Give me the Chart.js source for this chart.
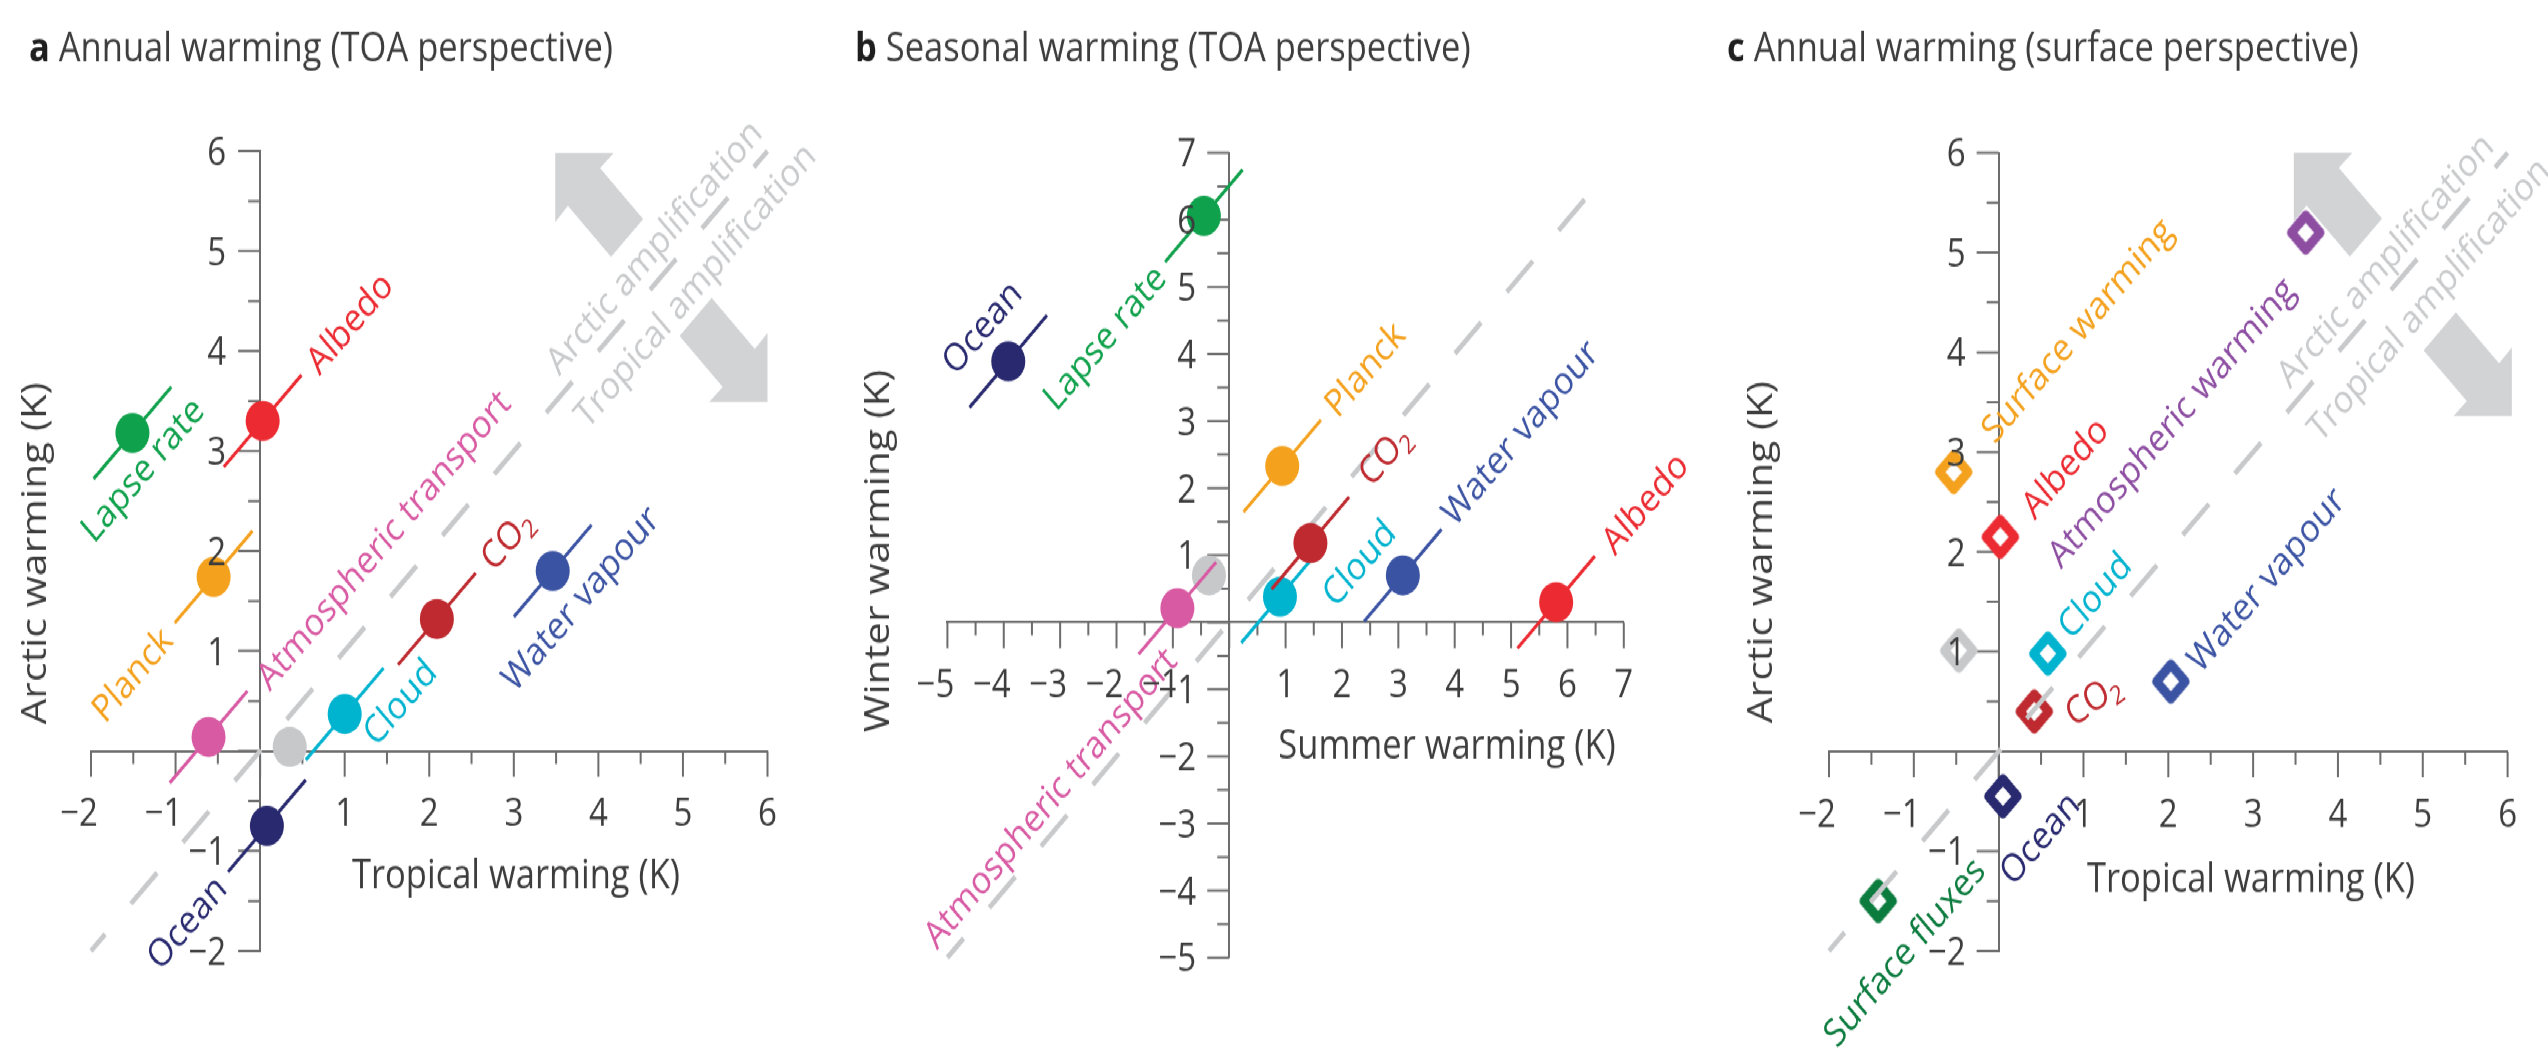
<!DOCTYPE html>
<html>
<head>
<meta charset="utf-8">
<script src="https://cdn.jsdelivr.net/npm/chart.js@4.4.0/dist/chart.umd.min.js"></script>
<style>
html, body { margin: 0; padding: 0; background: #fff; overflow: hidden; }
/* the original figure is stretched vertically, so everything is drawn in a flat box and scaled */
#wrap { position: absolute; left: 0; top: 0; width: 2548px; height: 890px; transform: scaleY(1.1798); transform-origin: 0 0; }
#wrap canvas { position: absolute; top: 0; }
</style>
</head>
<body>
<div id="wrap">
  <canvas id="panelA" width="850" height="890" style="left:0px"></canvas>
  <canvas id="panelB" width="850" height="890" style="left:850px"></canvas>
  <canvas id="panelC" width="848" height="890" style="left:1700px"></canvas>
</div>
<script>
// ---- values (K) ----
// a: annual warming, TOA perspective
const termsA = ['Total', 'Lapse rate', 'Albedo', 'Planck', 'Atmospheric transport', 'Cloud', 'Ocean', 'CO₂', 'Water vapour'];
const tropicalA = [0.35, -1.51, 0.03, -0.55, -0.61, 1.00, 0.08, 2.09, 3.46];
const arcticA = [0.04, 3.18, 3.30, 1.74, 0.14, 0.37, -0.75, 1.32, 1.80];

// b: seasonal warming, TOA perspective
const termsB = ['Total', 'Atmospheric transport', 'Cloud', 'CO₂', 'Planck', 'Water vapour', 'Albedo', 'Lapse rate', 'Ocean'];
const summerB = [-0.36, -0.92, 0.90, 1.44, 0.94, 3.08, 5.80, -0.45, -3.92];
const winterB = [0.70, 0.21, 0.38, 1.18, 2.33, 0.70, 0.30, 6.06, 3.89];

// c: annual warming, surface perspective
const termsC = ['Total', 'Surface warming', 'Albedo', 'Atmospheric warming', 'Cloud', 'CO₂', 'Water vapour', 'Ocean', 'Surface fluxes'];
const tropicalC = [-0.47, -0.53, 0.02, 3.62, 0.58, 0.42, 2.03, 0.05, -1.42];
const arcticC = [1.01, 2.80, 2.15, 5.20, 0.98, 0.40, 0.70, -0.45, -1.50];

// axis ranges (ticks every 1, minor every 0.5) and the 1:1 line
const rangeA = [-2, 6];
const rangeB = [-5, 7];
const rangeC = [-2, 6];
const oneToOneA = [-2, 6];
const oneToOneB = [-5, 6.6];
const oneToOneC = [-2, 6];

// ---- styles ----
const FONT = "'Open Sans', sans-serif";
const LABEL_SIZE = 32.5;
const TEXT = '#3d3d3d';
const AXIS = '#6d6d6d';
const DASH = '#c8c9cb';
const ARROW = '#d2d3d5';
const AMP = '#c9cacc';
const termColor = {
    'Total': '#c7c8ca',
    'Lapse rate': '#10a14c',
    'Albedo': '#ec2a31',
    'Planck': '#f4a11e',
    'Atmospheric transport': '#d85aa3',
    'Cloud': '#00b3cf',
    'Ocean': '#28296f',
    'CO₂': '#be2a2f',
    'Water vapour': '#3b53a3',
    'Surface warming': '#f4a11e',
    'Atmospheric warming': '#8d4ea2',
    'Surface fluxes': '#0c7b3e'
};

// label placement: [align, px along the 1:1 direction, px across it (+ = lower right), rotation override]
const placeA = {
    'Lapse rate': ['center', -15, 28],
    'Albedo': ['left', 67, 2],
    'Planck': ['right', -67, 0],
    'Atmospheric transport': ['left', 70, 5],
    'Cloud': ['center', 46, 31],
    'Ocean': ['right', -66, 0],
    'CO₂': ['left', 68, 1],
    'Water vapour': ['center', 3, 35]
};
const placeB = {
    'Ocean': ['center', 2, -40],
    'Lapse rate': ['right', -64, 1],
    'Planck': ['left', 67, 0],
    'CO₂': ['left', 76, -1],
    'Cloud': ['center', 76, 35],
    'Water vapour': ['left', 65, -3],
    'Albedo': ['left', 69, 3],
    'Atmospheric transport': ['right', -32, 22]
};
const placeC = {
    'Surface warming': ['left', 45, 1],
    'Albedo': ['left', 34, 3],
    'Atmospheric warming': ['right', -42, 18],
    'Cloud': ['left', 24, -3],
    'CO₂': ['center', 49, 33, -32],
    'Water vapour': ['left', 25, 5],
    'Ocean': ['center', 1, 50],
    'Surface fluxes': ['center', -12, 48]
};

// grey arrow outline, in axis units from the tip
const arrowShape = [[0, 0], [0.69, 0], [0.53, -0.15], [1.04, -0.66], [0.66, -1.04], [0.15, -0.53], [0, -0.69]];

function tickText(v) {
    return v < 0 ? '\u2212' + (-v) : String(v);
}

// text rotated about its anchor, caps centred on the anchor line; "₂" drawn as a subscript
function drawRotText(ctx, text, x, y, angle, align, color, size) {
    ctx.save();
    ctx.translate(x, y);
    ctx.rotate(angle);
    ctx.fillStyle = color;
    const main = size + 'px ' + FONT;
    const sub = Math.round(size * 0.68) + 'px ' + FONT;
    const pieces = [];
    let w = 0;
    text.split('₂').forEach((part, i, all) => {
        if (part) {
            ctx.font = main;
            const pw = ctx.measureText(part).width;
            pieces.push([part, main, 0, pw]);
            w += pw;
        }
        if (i < all.length - 1) {
            ctx.font = sub;
            const pw = ctx.measureText('2').width;
            pieces.push(['2', sub, size * 0.2, pw]);
            w += pw;
        }
    });
    let sx = align === 'left' ? 0 : (align === 'right' ? -w : -w / 2);
    ctx.textAlign = 'left';
    ctx.textBaseline = 'alphabetic';
    pieces.forEach(([t, f, dy, pw]) => {
        ctx.font = f;
        ctx.fillText(t, sx, size * 0.357 + dy);
        sx += pw;
    });
    ctx.restore();
}

function diagDir(xs, ys) {
    const dx = xs.getPixelForValue(1) - xs.getPixelForValue(0);
    const dy = ys.getPixelForValue(1) - ys.getPixelForValue(0);
    const L = Math.hypot(dx, dy);
    return { ux: dx / L, uy: dy / L, nx: -dy / L, ny: dx / L, ang: Math.atan2(dy, dx) };
}

function diamondImage(color) {
    const c = document.createElement('canvas');
    c.width = 46;
    c.height = 46;
    const g = c.getContext('2d');
    const h = 14.4;
    g.beginPath();
    g.moveTo(23, 23 - h);
    g.lineTo(23 + h, 23);
    g.lineTo(23, 23 + h);
    g.lineTo(23 - h, 23);
    g.closePath();
    g.fillStyle = '#fff';
    g.fill();
    g.lineWidth = 8.6;
    g.lineJoin = 'round';
    g.strokeStyle = color;
    g.stroke();
    return c;
}

function makeDecor(p) {
    return {
        id: 'decor' + p.key,
        beforeDatasetsDraw(chart) {
            const ctx = chart.ctx, xs = chart.scales.x, ys = chart.scales.y;
            const d = diagDir(xs, ys);
            ctx.save();
            if (p.arrows) {
                ctx.fillStyle = ARROW;
                p.arrows.forEach(([tx, ty, s]) => {
                    ctx.beginPath();
                    arrowShape.forEach(([ax, ay], k) => {
                        const px = xs.getPixelForValue(tx + s * ax);
                        const py = ys.getPixelForValue(ty + s * ay);
                        if (k) ctx.lineTo(px, py); else ctx.moveTo(px, py);
                    });
                    ctx.closePath();
                    ctx.fill();
                });
                p.ampText.forEach(([txt, t, off]) => {
                    const bx = xs.getPixelForValue(t) + off * d.nx;
                    const by = ys.getPixelForValue(t) + off * d.ny;
                    drawRotText(ctx, txt, bx, by, d.ang, 'center', AMP, LABEL_SIZE);
                });
            }
            // tick marks, long at whole kelvins
            const x0 = xs.getPixelForValue(0), y0 = ys.getPixelForValue(0);
            ctx.strokeStyle = AXIS;
            ctx.lineWidth = 2;
            ctx.beginPath();
            for (let i = xs.min * 2; i <= xs.max * 2; i++) {
                const px = xs.getPixelForValue(i / 2);
                ctx.moveTo(px, y0);
                ctx.lineTo(px, y0 + (i % 2 === 0 ? 22 : 11));
            }
            for (let i = ys.min * 2; i <= ys.max * 2; i++) {
                const py = ys.getPixelForValue(i / 2);
                ctx.moveTo(x0, py);
                ctx.lineTo(x0 - (i % 2 === 0 ? 22 : 12), py);
            }
            ctx.stroke();
            ctx.restore();
        },
        beforeDatasetDraw(chart, args) {
            if (!p.segments) return;
            const t = p.terms[args.index];
            if (t === undefined || t === 'Total') return;
            const el = args.meta.data[0];
            const d = diagDir(chart.scales.x, chart.scales.y);
            const ctx = chart.ctx;
            ctx.save();
            ctx.strokeStyle = termColor[t];
            ctx.lineWidth = 3;
            ctx.beginPath();
            ctx.moveTo(el.x - 55 * d.ux, el.y - 55 * d.uy);
            ctx.lineTo(el.x + 55 * d.ux, el.y + 55 * d.uy);
            ctx.stroke();
            ctx.restore();
        },
        afterDatasetsDraw(chart) {
            const ctx = chart.ctx, xs = chart.scales.x, ys = chart.scales.y;
            const d = diagDir(xs, ys);
            // term names along each point
            p.terms.forEach((t, i) => {
                const pl = p.place[t];
                if (!pl) return;
                const el = chart.getDatasetMeta(i).data[0];
                const ax = el.x + pl[1] * d.ux + pl[2] * d.nx;
                const ay = el.y + pl[1] * d.uy + pl[2] * d.ny;
                const ang = pl[3] !== undefined ? pl[3] * Math.PI / 180 : d.ang;
                drawRotText(ctx, t, ax, ay, ang, pl[0], termColor[t], LABEL_SIZE);
            });
            // tick labels
            const x0 = xs.getPixelForValue(0), y0 = ys.getPixelForValue(0);
            for (let v = xs.min; v <= xs.max; v++) {
                if (v === 0) continue;
                drawRotText(ctx, tickText(v), xs.getPixelForValue(v) - (v < 0 ? 12 : 0), y0 + 52, 0, 'center', TEXT, 33);
            }
            for (let v = ys.min; v <= ys.max; v++) {
                if (v === 0) continue;
                drawRotText(ctx, tickText(v), x0 - p.yLabelGap, ys.getPixelForValue(v), 0, 'right', TEXT, 33);
            }
            // panel title and axis titles
            ctx.save();
            ctx.fillStyle = '#1e1e1e';
            ctx.font = 'bold 34.5px ' + FONT;
            ctx.textBaseline = 'alphabetic';
            ctx.fillText(p.title[0], p.title[2], p.title[3] + 34.5 * 0.357);
            const bw = ctx.measureText(p.title[0] + ' ').width;
            ctx.restore();
            drawRotText(ctx, p.title[1], p.title[2] + bw, p.title[3], 0, 'left', TEXT, 34.5);
            drawRotText(ctx, p.xTitle[0], p.xTitle[1], p.xTitle[2], 0, 'center', TEXT, 34.5);
            drawRotText(ctx, p.yTitle[0], p.yTitle[1], p.yTitle[2], -Math.PI / 2, 'center', TEXT, 34.5);
        }
    };
}

function buildPanel(canvasId, p) {
    const n = p.terms.length;
    const datasets = p.terms.map((t, i) => ({
        label: t,
        data: [{ x: p.xs[i], y: p.ys[i] }],
        pointStyle: p.diamonds ? diamondImage(termColor[t]) : 'circle',
        pointRadius: 17,
        backgroundColor: termColor[t],
        borderWidth: 0,
        order: n - i,
        clip: false
    }));
    datasets.push({
        label: '1:1',
        data: p.diag.map(v => ({ x: v, y: v })),
        showLine: true,
        borderColor: DASH,
        borderWidth: 4.5,
        borderDash: [37, 36.5],
        borderDashOffset: p.dashOffset,
        borderCapStyle: 'butt',
        pointRadius: 0,
        order: p.dashOnTop ? -1 : 100,
        clip: false
    });
    const axis = (range, pos) => ({
        type: 'linear',
        min: range[0],
        max: range[1],
        position: pos,
        grid: { display: false, drawTicks: false },
        border: { display: true, color: AXIS, width: 2 },
        ticks: { display: false, stepSize: 1 }
    });
    return new Chart(document.getElementById(canvasId), {
        type: 'scatter',
        data: { datasets: datasets },
        options: {
            responsive: false,
            animation: false,
            events: [],
            devicePixelRatio: 1,
            layout: { padding: p.pad },
            plugins: { legend: { display: false }, tooltip: { enabled: false } },
            scales: {
                x: axis(p.range, { y: 0 }),
                y: axis(p.range, { x: 0 })
            }
        },
        plugins: [makeDecor(p)]
    });
}

buildPanel('panelA', {
    key: 'A', terms: termsA, xs: tropicalA, ys: arcticA, range: rangeA, diag: oneToOneA,
    place: placeA, segments: true, diamonds: false, dashOffset: 17, dashOnTop: false,
    pad: { left: 91, right: 82.5, top: 128, bottom: 84 },
    arrows: [[3.49, 5.98, 1], [6.0, 3.49, -1]],
    ampText: [['Arctic amplification', 4.85, -24], ['Tropical amplification', 4.9, 28]],
    yLabelGap: 34,
    title: ['a', 'Annual warming (TOA perspective)', 29, 40],
    xTitle: ['Tropical warming (K)', 516, 741],
    yTitle: ['Arctic warming (K)', 34, 469]
});

buildPanel('panelB', {
    key: 'B', terms: termsB, xs: summerB, ys: winterB, range: rangeB, diag: oneToOneB,
    place: placeB, segments: true, diamonds: false, dashOffset: 14, dashOnTop: false,
    pad: { left: 97.4, right: 76.2, top: 129.5, bottom: 78.3 },
    arrows: null, ampText: [],
    yLabelGap: 33,
    title: ['b', 'Seasonal warming (TOA perspective)', 5, 40],
    xTitle: ['Summer warming (K)', 597, 631],
    yTitle: ['Winter warming (K)', 27, 467]
});

buildPanel('panelC', {
    key: 'C', terms: termsC, xs: tropicalC, ys: arcticC, range: rangeC, diag: oneToOneC,
    place: placeC, segments: false, diamonds: true, dashOffset: 15, dashOnTop: true,
    pad: { left: 129, right: 40.4, top: 129.5, bottom: 84 },
    arrows: [[3.48, 6.0, 1], [6.05, 3.36, -1]],
    ampText: [['Arctic amplification', 4.74, -23], ['Tropical amplification', 4.8, 31]],
    yLabelGap: 33,
    title: ['c', 'Annual warming (surface perspective)', 27, 40],
    xTitle: ['Tropical warming (K)', 551, 744],
    yTitle: ['Arctic warming (K)', 60, 468]
});
</script>
</body>
</html>
